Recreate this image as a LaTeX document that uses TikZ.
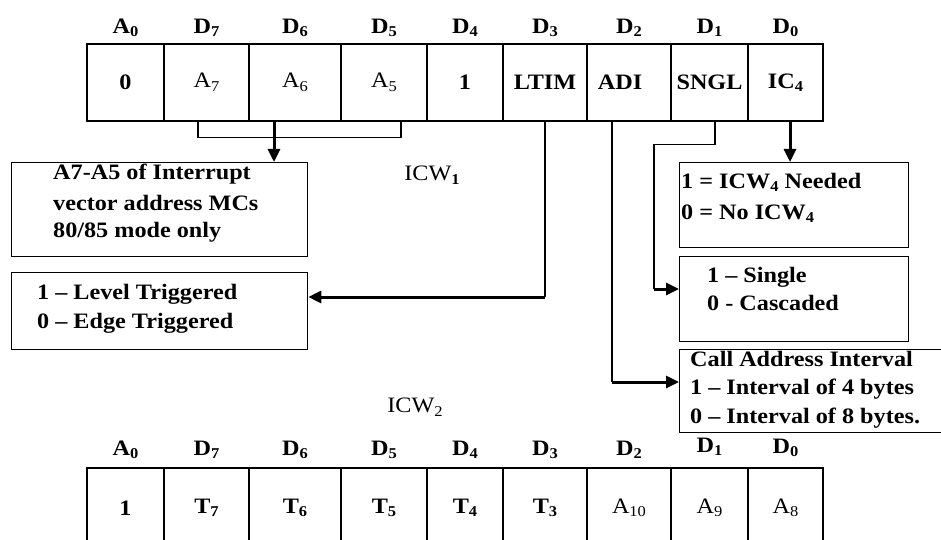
\documentclass[tikz,border=0pt]{standalone}
\usepackage{fontspec}
\setmainfont{Liberation Serif}[FakeStretch=1.1]
\usetikzlibrary{arrows.meta}
\newcommand\sbs[1]{\raisebox{-0.35ex}{\fontsize{15}{15}\selectfont #1}}
\begin{document}
\begin{tikzpicture}[x=1pt,y=-1pt,
  cell/.style={draw,line width=1.3pt,inner sep=0pt,minimum height=77pt,font=\bfseries\fontsize{22}{26}\selectfont},
  cellb/.style={cell,minimum height=80pt},
  rcell/.style={font=\mdseries\fontsize{22}{26}\selectfont},
  hdr/.style={inner sep=0pt,font=\bfseries\fontsize{22}{26}\selectfont},
  box/.style={draw,line width=1.3pt,inner sep=0pt,anchor=north west},
  txt/.style={inner sep=0pt,anchor=mid west,font=\bfseries\fontsize{22}{26}\selectfont},
  lbl/.style={inner sep=0pt,font=\fontsize{22}{26}\selectfont},
  thinl/.style={line width=1.2pt},
  arr/.style={line width=3pt,-{Triangle[length=13pt,width=12pt]}}]
\useasboundingbox (0,0) rectangle (941,540);
\clip (0,0) rectangle (941,540);
% ---------- ICW1 table ----------
\node[hdr] (ha0) at (125.5,28) {A\sbs{0}};
\node[hdr] (hd7) at (206.5,28) {D\sbs{7}};
\node[hdr] (hd6) at (295,28) {D\sbs{6}};
\node[hdr] (hd5) at (384,28) {D\sbs{5}};
\node[hdr] (hd4) at (465,28) {D\sbs{4}};
\node[hdr] (hd3) at (545,28) {D\sbs{3}};
\node[hdr] (hd2) at (629,28) {D\sbs{2}};
\node[hdr] (hd1) at (709.5,28) {D\sbs{1}};
\node[hdr] (hd0) at (785.5,28) {D\sbs{0}};
\node[cell,minimum width=77pt] (c0) at (125.5,82.5) {0};
\node[cell,rcell,minimum width=85pt] (a7) at (206.5,82.5) {A\sbs{7}};
\node[cell,rcell,minimum width=92pt] (a6) at (295,82.5) {A\sbs{6}};
\node[cell,rcell,minimum width=86pt] (a5) at (384,82.5) {A\sbs{5}};
\node[cell,minimum width=76pt] (c1) at (465,82.5) {1};
\node[cell,minimum width=84pt] (ltim) at (545,82.5) {LTIM};
\node[cell,minimum width=84pt] (adi) at (629,82.5) {\hspace*{-18pt}ADI};
\node[cell,minimum width=77pt] (sngl) at (709.5,82.5) {SNGL};
\node[cell,minimum width=75pt] (ic4) at (785.5,82.5) {IC\sbs{4}};
\node[lbl] (icw1) at (432,175) {ICW\sbs{\bfseries 1}};
% ---------- boxes ----------
\node[box,minimum width=296pt,minimum height=94pt] (b1) at (11,162) {};
\node[txt] (b1a) at (53,177) {A7-A5 of Interrupt};
\node[txt] (b1b) at (53,208) {vector address MCs};
\node[txt] (b1c) at (53,235) {80/85 mode only};
\node[box,minimum width=296pt,minimum height=77pt] (b2) at (11,272) {};
\node[txt] (b2a) at (37,297) {1 -- Level Triggered};
\node[txt] (b2b) at (37,326) {0 -- Edge Triggered};
\node[box,minimum width=229pt,minimum height=85pt] (b3) at (679,162) {};
\node[txt] (b3a) at (681,186) {1 = ICW\sbs{4} Needed};
\node[txt] (b3b) at (681,217) {0 = No ICW\sbs{4}};
\node[box,minimum width=229pt,minimum height=85pt] (b4) at (679,256) {};
\node[txt] (b4a) at (707,280) {1 -- Single};
\node[txt] (b4b) at (707,308) {0 - Cascaded};
\node[box,minimum width=275pt,minimum height=83pt] (b5) at (679,349) {};
\node[txt] (b5a) at (690,364) {Call Address Interval};
\node[txt] (b5b) at (690,392) {1 -- Interval of 4 bytes};
\node[txt] (b5c) at (690,421) {0 -- Interval of 8 bytes.};
% ---------- connectors ----------
\draw[thinl] ([xshift=-8.5pt]a7.south) -- ++(0,16) -| ([xshift=17pt]a5.south);
\draw[arr] ([xshift=-21pt]a6.south) coordinate (s1) -- (s1 |- b1.north);
\draw[arr] ([xshift=4.5pt]ic4.south) coordinate (s2) -- (s2 |- b3.north);
\draw[thinl] (ltim.south) -- (ltim.south |- 0,297) coordinate (lt);
\draw[arr] (lt) -- (lt -| b2.east);
\draw[thinl] ([xshift=-17pt]adi.south) coordinate (adt) -- (adt |- 0,382) coordinate (ad);
\draw[arr] (ad) -- (ad -| b5.west);
\draw[thinl] ([xshift=5.5pt]sngl.south) -- ++(0,23) -| (654,289) coordinate (sg);
\draw[arr] (sg) -- (sg -| b4.west);
% ---------- ICW2 table ----------
\node[lbl] (icw2) at (415,407) {ICW\sbs{2}};
\node[hdr] (ga0) at (125.5,450) {A\sbs{0}};
\node[hdr] (gd7) at (206.5,450) {D\sbs{7}};
\node[hdr] (gd6) at (295,450) {D\sbs{6}};
\node[hdr] (gd5) at (384,450) {D\sbs{5}};
\node[hdr] (gd4) at (465,450) {D\sbs{4}};
\node[hdr] (gd3) at (545,450) {D\sbs{3}};
\node[hdr] (gd2) at (629,450) {D\sbs{2}};
\node[hdr] (gd1) at (709.5,447) {D\sbs{1}};
\node[hdr] (gd0) at (785.5,448) {D\sbs{0}};
\node[cellb,minimum width=77pt] (e1) at (125.5,508) {1};
\node[cellb,minimum width=85pt] (t7) at (206.5,508) {T\sbs{7}};
\node[cellb,minimum width=92pt] (t6) at (295,508) {T\sbs{6}};
\node[cellb,minimum width=86pt] (t5) at (384,508) {T\sbs{5}};
\node[cellb,minimum width=76pt] (t4) at (465,508) {T\sbs{4}};
\node[cellb,minimum width=84pt] (t3) at (545,508) {T\sbs{3}};
\node[cellb,rcell,minimum width=84pt] (a10) at (629,508) {A\sbs{10}};
\node[cellb,rcell,minimum width=77pt] (a9) at (709.5,508) {A\sbs{9}};
\node[cellb,rcell,minimum width=75pt] (a8) at (785.5,508) {A\sbs{8}};
\end{tikzpicture}
\end{document}
